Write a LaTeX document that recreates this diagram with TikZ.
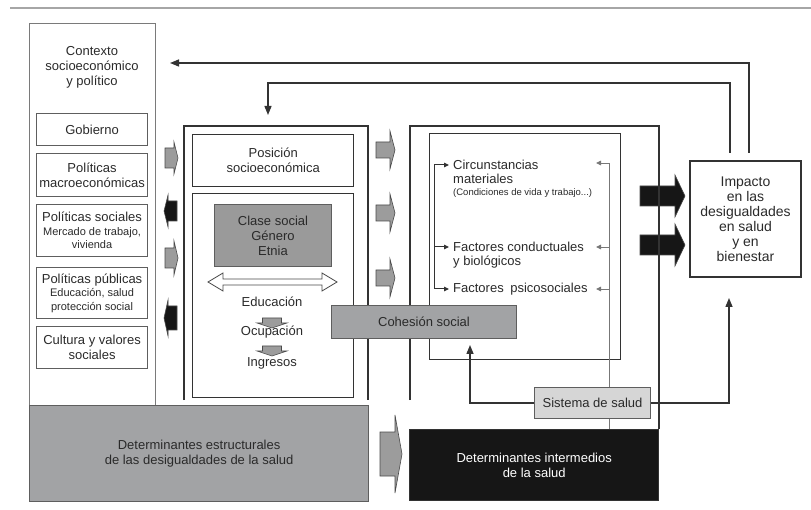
\documentclass[tikz,border=0pt]{standalone}
\usepackage{fontspec}
\setmainfont{Liberation Sans}
\usetikzlibrary{arrows.meta}
\definecolor{txt}{HTML}{2A2A2A}
\definecolor{frm}{HTML}{333333}
\definecolor{lfrm}{HTML}{7A7A7A}
\definecolor{ifrm}{HTML}{5E5E5E}
\definecolor{boxg}{HTML}{A2A3A5}
\definecolor{claseg}{HTML}{9A9A9A}
\definecolor{sisg}{HTML}{D6D6D6}
\definecolor{arrg}{HTML}{9C9C9C}
\definecolor{arrd}{HTML}{4A4A4A}
\definecolor{blk}{HTML}{161616}
\definecolor{thin}{HTML}{777777}
% block arrow: fill, x-tail, x-neck, x-tip, y-centre, shaft half height, head half height
\newcommand{\bkarrow}[7]{\filldraw[fill=#1,draw=arrd,line width=0.6pt]
  (#2,#5-#6) -- (#3,#5-#6) -- (#3,#5-#7) -- (#4,#5) -- (#3,#5+#7) -- (#3,#5+#6) -- (#2,#5+#6) -- cycle;}
\newcommand{\dnarrow}[2]{\filldraw[fill=arrg,draw=arrd,line width=0.6pt]
  (#1-9.5,#2) -- (#1+9.5,#2) -- (#1+9.5,#2+5) -- (#1+15,#2+5) -- (#1,#2+10) -- (#1-15,#2+5) -- (#1-9.5,#2+5) -- cycle;}
\begin{document}
\begin{tikzpicture}[x=1pt,y=-1pt,
  every node/.style={font=\fontsize{13}{15}\selectfont,text=txt},
  lcol/.style={draw=lfrm,line width=1.2pt,anchor=north west,inner sep=0pt},
  lbox/.style={draw=ifrm,line width=1.1pt,anchor=north west,inner sep=0pt,align=center},
  mbox/.style={draw=frm,line width=1.4pt,anchor=north west,inner sep=0pt,align=center},
  tx/.style={inner sep=0pt,align=center},
  lt/.style={inner sep=0pt,anchor=west},
  conn/.style={draw=frm,line width=1.4pt,-{Triangle[length=9pt,width=7pt]}},
  sarr/.style={draw=frm,line width=1pt,-{Triangle[length=5pt,width=4.5pt]}},
  garr/.style={draw=thin,line width=0.9pt,-{Triangle[length=5pt,width=4.5pt]}}]
\useasboundingbox (0,0) rectangle (811,510);
\draw[draw=gray!70,line width=1.5pt] (10,8) -- (811,8);

% left column
\node[lcol,minimum width=126pt,minimum height=382pt] (ctx) at (29,23) {};
\node[tx] (ctxt) at (92,67) {Contexto\\socioeconómico\\y político};
\node[lbox,minimum width=111pt,minimum height=32pt] (gob) at (36,113) {Gobierno};
\node[lbox,minimum width=111pt,minimum height=43pt] (mac) at (36,153) {Políticas\\macroeconómicas};
\node[lbox,minimum width=111pt,minimum height=52pt,font=\fontsize{11}{13.5}\selectfont] (soc) at (36,204)
  {{\fontsize{13}{15}\selectfont Políticas sociales}\\Mercado de trabajo,\\vivienda};
\node[lbox,minimum width=111pt,minimum height=51pt,font=\fontsize{11}{13.5}\selectfont] (pub) at (36,267)
  {{\fontsize{13}{15}\selectfont Políticas públicas}\\Educación, salud\\protección social};
\node[lbox,minimum width=111pt,minimum height=42pt] (cult) at (36,326) {Cultura y valores\\sociales};

% arrows between left column and middle column
\bkarrow{arrg}{165}{174}{178}{158}{10}{16}
\bkarrow{blk}{177}{168}{164}{211}{10}{16}
\bkarrow{arrg}{165}{174}{178}{258}{10}{17}
\bkarrow{blk}{177}{168}{164}{318}{12}{18}

% middle column
\draw[draw=frm,line width=1.4pt] (184,400) |- (368,126) -- (368,400);
\node[mbox,minimum width=161pt,minimum height=52pt] (pos) at (192,134) {Posición\\socioeconómica};
\node[mbox,minimum width=161pt,minimum height=204pt] (inner) at (192,193) {};
\node[mbox,draw=ifrm,line width=1pt,fill=claseg,minimum width=117pt,minimum height=62pt] (clase) at (214,204)
  {Clase social\\Género\\Etnia};
\filldraw[fill=white,draw=arrd,line width=0.8pt] (208,282) -- (223,273) -- (223,279) -- (322,279) -- (322,273)
  -- (337,282) -- (322,291) -- (322,285) -- (223,285) -- (223,291) -- cycle;
\node[tx] (edu) at (272,302) {Educación};
\dnarrow{272}{318}
\node[tx] (ocu) at (272,332) {Ocupación};
\dnarrow{272}{346}
\node[tx] (ing) at (272,363) {Ingresos};

% arrows between middle and right column
\bkarrow{arrg}{376}{390}{395}{150}{8}{19}
\bkarrow{arrg}{376}{390}{395}{213}{8}{19}
\bkarrow{arrg}{376}{390}{395}{278}{8}{19}

% right column
\bkarrow{blk}{640}{675}{685}{196}{10}{21}
\bkarrow{blk}{640}{675}{685}{245}{10}{21}
\draw[draw=frm,line width=1.4pt] (410,400) |- (659,126) -- (659,429);
\node[mbox,minimum width=191pt,minimum height=226pt] (rinner) at (429,133) {};
\node[lt] (circ) at (453,165) {Circunstancias};
\node[lt] (mat) at (453,179) {materiales};
\node[lt,font=\fontsize{9.5}{11}\selectfont] (cond) at (453,193) {(Condiciones de vida y trabajo...)};
\node[lt] (fc) at (453,247) {Factores conductuales};
\node[lt] (yb) at (453,262) {y biológicos};
\node[lt] (fp) at (453,289) {Factores\enspace psicosociales};
\coordinate (bk) at (434,0);
\coordinate (rk) at (609,0);
\draw[draw=frm,line width=1pt] (bk |- circ.west) -- (bk |- fp.west);
\draw[sarr] (bk |- circ.west) -- ([xshift=-4pt]circ.west);
\draw[sarr] (bk |- fc.west) -- ([xshift=-4pt]fc.west);
\draw[sarr] (bk |- fp.west) -- ([xshift=-4pt]fp.west);

% bottom boxes
\node[lcol,draw=ifrm,fill=boxg,minimum width=339pt,minimum height=96pt,align=center] (estr) at (29,405)
  {Determinantes estructurales\\de las desigualdades de la salud};
\bkarrow{arrg}{380}{395}{402}{454}{22}{39}
\node[mbox,fill=blk,minimum width=249pt,minimum height=71pt,text=white] (inter) at (409,429)
  {Determinantes intermedios\\de la salud};
\draw[draw=thin,line width=0.9pt] ([yshift=2pt]rk |- circ.west) -- (rk |- inter.north);
\draw[garr] ([yshift=2pt]rk |- circ.west) -- ++(-13,0);
\draw[garr] (rk |- fc.west) -- ++(-13,0);
\draw[garr] (rk |- fp.west) -- ++(-13,0);

\node[mbox,draw=ifrm,line width=1pt,fill=boxg,minimum width=185pt,minimum height=33pt] (coh) at (331,305) {Cohesión social};
\node[mbox,draw=ifrm,line width=1pt,fill=sisg,minimum width=116pt,minimum height=31pt] (sis) at (534,387) {Sistema de salud};

% impact box
\node[mbox,line width=2pt,minimum width=111pt,minimum height=116pt,font=\fontsize{14}{15}\selectfont] (imp) at (689,160)
  {Impacto\\en las\\desigualdades\\en salud\\y en\\bienestar};

% connectors
\coordinate (fb1) at (170,63);
\coordinate (fb2) at (268,115);
\coordinate (cohin) at (470,345);
\coordinate (impin) at (729,298);
\draw[conn] ([xshift=3.5pt,yshift=7pt]imp.north) |- (fb1);
\draw[conn] ([xshift=-15.5pt,yshift=7pt]imp.north) |- ([yshift=32pt]fb2) -- (fb2);
\draw[conn] (sis.west) -| (cohin);
\draw[conn] (sis.east) -| (impin);
\end{tikzpicture}
\end{document}
